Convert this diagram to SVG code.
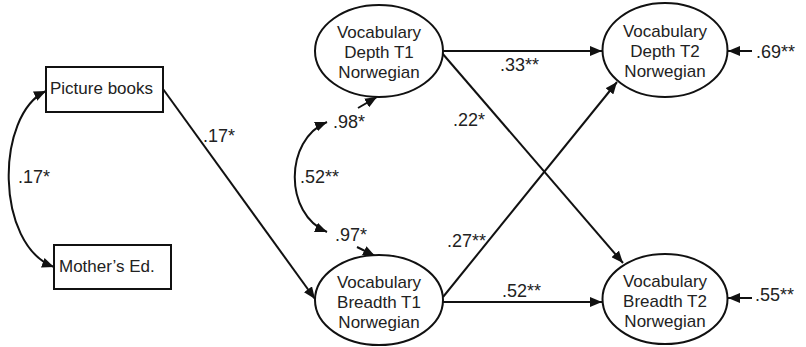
<svg xmlns="http://www.w3.org/2000/svg" width="806" height="347" viewBox="0 0 806 347">
<style>
  .node { fill: #fff; stroke: #111; stroke-width: 2; }
  .t { font-family: "Liberation Sans", Arial, sans-serif; font-size: 17px; fill: #222; }
  .l { font-size: 18px; }
  .c { text-anchor: middle; }
  .edge { fill: none; stroke: #111; stroke-width: 2; }
</style>
<defs>
  <marker id="ah" markerUnits="userSpaceOnUse" markerWidth="13" markerHeight="10" refX="12" refY="5" orient="auto-start-reverse">
    <path d="M0,0 L12,5 L0,10 z" fill="#111"/>
  </marker>
</defs>
<rect width="806" height="347" fill="#fff"/>

<g id="connectors">
  <path class="edge" d="M46 91 C -5 115, -5 245, 54 267" marker-start="url(#ah)" marker-end="url(#ah)"/>
  <path class="edge" d="M163 89 L315 299" marker-end="url(#ah)"/>
  <path class="edge" d="M327 122 C 284 140, 284 214, 327 232" marker-start="url(#ah)" marker-end="url(#ah)"/>
  <path class="edge" d="M358 108 L377 97" marker-end="url(#ah)"/>
  <path class="edge" d="M357 247 L375 256" marker-end="url(#ah)"/>
  <path class="edge" d="M443 51 L602 51" marker-end="url(#ah)"/>
  <path class="edge" d="M442 53 L623 263" marker-end="url(#ah)"/>
  <path class="edge" d="M443 297 L617 82" marker-end="url(#ah)"/>
  <path class="edge" d="M443 302 L602 302" marker-end="url(#ah)"/>
  <path class="edge" d="M752 51 L728 51" marker-end="url(#ah)"/>
  <path class="edge" d="M752 298 L728 298" marker-end="url(#ah)"/>
  <text class="t l" x="18" y="183">.17*</text>
  <text class="t l" x="203" y="142">.17*</text>
  <text class="t l" x="300" y="183">.52**</text>
  <text class="t l" x="333" y="128">.98*</text>
  <text class="t l" x="335" y="241">.97*</text>
  <text class="t l" x="500" y="71">.33**</text>
  <text class="t l" x="453" y="126">.22*</text>
  <text class="t l" x="447" y="247">.27**</text>
  <text class="t l" x="502" y="297">.52**</text>
  <text class="t l" x="756" y="58">.69**</text>
  <text class="t l" x="755" y="301">.55**</text>
</g>

<g id="picture-books">
  <rect class="node" x="46" y="67" width="117" height="45"/>
  <text class="t" x="50" y="94">Picture books</text>
</g>
<g id="mothers-ed">
  <rect class="node" x="54" y="245" width="117" height="44"/>
  <text class="t" x="59" y="272">Mother’s Ed.</text>
</g>
<g id="depth-t1">
  <ellipse class="node" cx="379" cy="51" rx="64" ry="46"/>
  <text class="t c" x="379" y="38">Vocabulary</text>
  <text class="t c" x="379" y="58">Depth T1</text>
  <text class="t c" x="379" y="78">Norwegian</text>
</g>
<g id="breadth-t1">
  <ellipse class="node" cx="379" cy="300" rx="64" ry="45"/>
  <text class="t c" x="379" y="288">Vocabulary</text>
  <text class="t c" x="379" y="308">Breadth T1</text>
  <text class="t c" x="379" y="328">Norwegian</text>
</g>
<g id="depth-t2">
  <ellipse class="node" cx="665" cy="50" rx="62.5" ry="47"/>
  <text class="t c" x="665" y="37">Vocabulary</text>
  <text class="t c" x="665" y="57">Depth T2</text>
  <text class="t c" x="665" y="77">Norwegian</text>
</g>
<g id="breadth-t2">
  <ellipse class="node" cx="665" cy="299" rx="62.5" ry="45"/>
  <text class="t c" x="665" y="287">Vocabulary</text>
  <text class="t c" x="665" y="307">Breadth T2</text>
  <text class="t c" x="665" y="327">Norwegian</text>
</g>
</svg>
